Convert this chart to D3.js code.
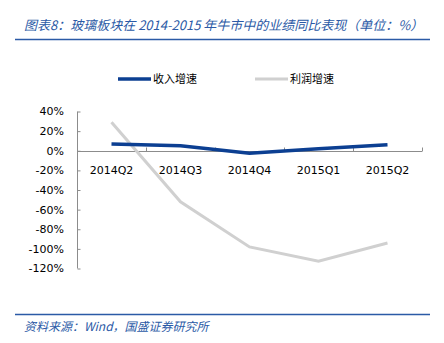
<!DOCTYPE html>
<html>
<head>
<meta charset="utf-8">
<script src="https://cdn.jsdelivr.net/npm/d3@7"></script>
<style>
  html, body { margin: 0; padding: 0; background: #fff; }
  svg { display: block; }
</style>
</head>
<body>
<script>
// Quarterly year-on-year growth of the glass sector
const quarters = ["2014Q2", "2014Q3", "2014Q4", "2015Q1", "2015Q2"];
const revenueGrowth = [7, 5, -2.5, 2, 6];
const profitGrowth = [29, -52, -98, -112.5, -94];
const yTicks = [40, 20, 0, -20, -40, -60, -80, -100, -120];
const seriesNames = ["收入增速", "利润增速"];

const W = 444, H = 343;
const svg = d3.select("body").append("svg").attr("width", W).attr("height", H);

const titleColor = "#2b5aa6";
const cjk = "'Noto Sans CJK SC', sans-serif";
const num = "'DejaVu Sans', Verdana, sans-serif";

// Title and rule
svg.append("text").attr("x", 24).attr("y", 30)
  .attr("font-family", cjk).attr("font-size", 13).attr("font-style", "italic")
  .attr("fill", titleColor)
  .text("图表8：玻璃板块在 2014-2015 年牛市中的业绩同比表现（单位：%）");
svg.append("line").attr("x1", 15).attr("x2", 430).attr("y1", 39.5).attr("y2", 39.5)
  .attr("stroke", titleColor).attr("stroke-width", 1.5);

// Footer rule and source
svg.append("line").attr("x1", 15).attr("x2", 430).attr("y1", 314.5).attr("y2", 314.5)
  .attr("stroke", titleColor).attr("stroke-width", 1.5);
svg.append("text").attr("x", 24).attr("y", 331)
  .attr("font-family", cjk).attr("font-size", 12).attr("font-style", "italic")
  .attr("fill", titleColor)
  .text("资料来源：Wind，国盛证券研究所");

// Scales
const x = d3.scaleBand().domain(quarters).range([77, 422]);
const y = d3.scaleLinear().domain([-120, 40]).range([268.5, 111.5]);
const axisColor = "#8c8c8c";

// Y axis (ticks pointing inward)
const gy = svg.append("g").attr("transform", "translate(77.5,0)")
  .call(d3.axisRight(y).tickValues(yTicks).tickSize(3).tickFormat(""));
gy.select(".domain").attr("stroke", axisColor).attr("d", `M0,${y(40)}V${y(-120)}`);
gy.selectAll(".tick line").attr("stroke", axisColor);
svg.append("g").selectAll("text").data(yTicks).join("text")
  .attr("x", 64).attr("y", d => y(d)).attr("dy", "0.36em")
  .attr("text-anchor", "end").attr("font-family", num).attr("font-size", 11)
  .attr("fill", "#000").text(d => d + "%");

// X axis at zero, tick marks between categories pointing up
const bounds = quarters.map(q => x(q)).concat([x.range()[1]]);
const gx = svg.append("g");
gx.append("line").attr("x1", 77).attr("x2", 422).attr("y1", Math.round(y(0)) + 0.5).attr("y2", Math.round(y(0)) + 0.5)
  .attr("stroke", axisColor);
gx.selectAll("line.t").data(bounds.slice(1)).join("line").attr("class", "t")
  .attr("x1", d => Math.round(d) + 0.5).attr("x2", d => Math.round(d) + 0.5)
  .attr("y1", Math.round(y(0)) + 0.5).attr("y2", Math.round(y(0)) - 3.5)
  .attr("stroke", axisColor);
gx.selectAll("text").data(quarters).join("text")
  .attr("x", d => x(d) + x.bandwidth() / 2).attr("y", 170).attr("dy", "0.36em")
  .attr("text-anchor", "middle").attr("font-family", num).attr("font-size", 11)
  .attr("fill", "#000").text(d => d);

// Lines
const line = d3.line().x((d, i) => x(quarters[i]) + x.bandwidth() / 2).y(d => y(d));
svg.append("path").datum(profitGrowth).attr("d", line)
  .attr("fill", "none").attr("stroke", "#d0d0d0").attr("stroke-width", 3);
svg.append("path").datum(revenueGrowth).attr("d", line)
  .attr("fill", "none").attr("stroke", "#0c3f92").attr("stroke-width", 3.5);

// Legend
const legend = [
  { name: seriesNames[0], color: "#0c3f92", w: 3.5, x: 118 },
  { name: seriesNames[1], color: "#d0d0d0", w: 3, x: 255 }
];
const lg = svg.append("g").selectAll("g").data(legend).join("g");
lg.append("line").attr("x1", d => d.x).attr("x2", d => d.x + 33)
  .attr("y1", 79).attr("y2", 79).attr("stroke", d => d.color).attr("stroke-width", d => d.w);
lg.append("text").attr("x", d => d.x + 35).attr("y", 79).attr("dy", "0.36em")
  .attr("font-family", cjk).attr("font-size", 11).attr("fill", "#000").text(d => d.name);
</script>
</body>
</html>
